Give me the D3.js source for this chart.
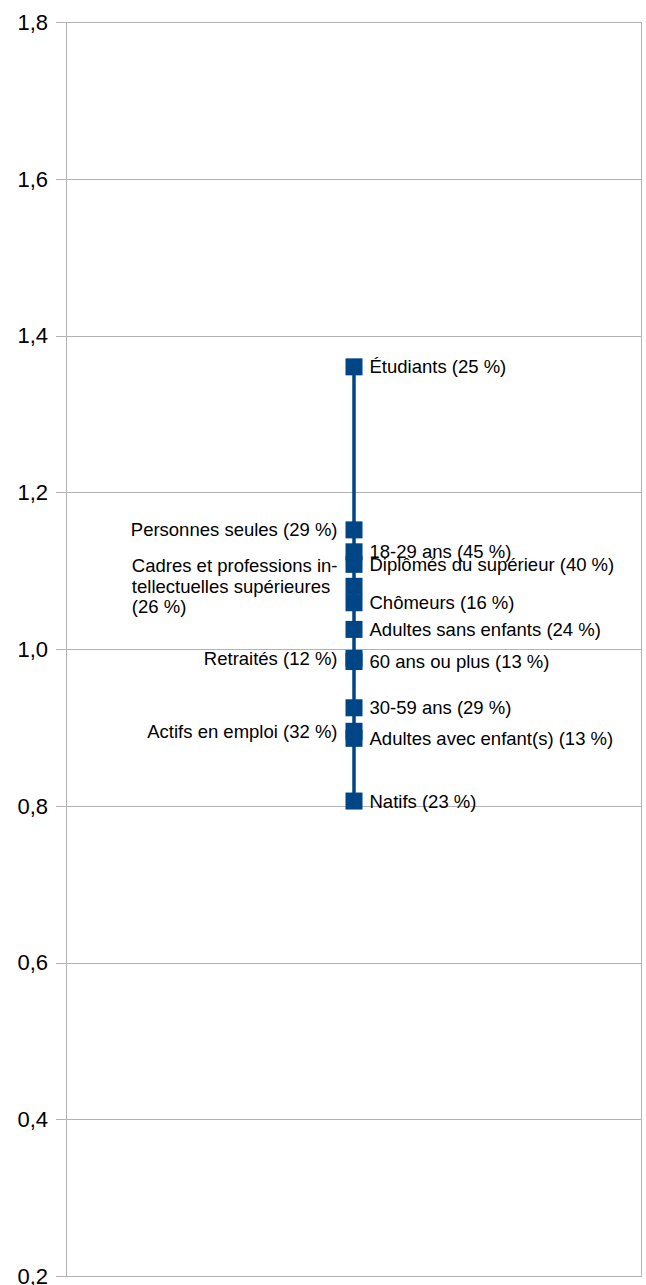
<!DOCTYPE html>
<html>
<head>
<meta charset="utf-8">
<script src="https://cdn.jsdelivr.net/npm/d3@7"></script>
<style>
  html, body { margin: 0; padding: 0; background: #fff; }
  svg { display: block; font-family: "Liberation Sans", Arial, sans-serif; }
</style>
</head>
<body>
<svg id="chart" width="646" height="1285"></svg>
<script>
// ---- data ----
const labels = [
  "Étudiants (25 %)",
  "Personnes seules (29 %)",
  "18-29 ans (45 %)",
  "Diplômés du supérieur (40 %)",
  "Cadres et professions in-\ntellectuelles supérieures\n(26 %)",
  "Chômeurs (16 %)",
  "Adultes sans enfants (24 %)",
  "Retraités (12 %)",
  "60 ans ou plus (13 %)",
  "30-59 ans (29 %)",
  "Actifs en emploi (32 %)",
  "Adultes avec enfant(s) (13 %)",
  "Natifs (23 %)"
];
const values = [1.36, 1.152, 1.124, 1.108, 1.080, 1.059, 1.025, 0.988, 0.984, 0.925, 0.895, 0.886, 0.806];
const sides = ["right", "left", "right", "right", "left", "right", "right", "left", "right", "right", "left", "right", "right"];
const yTicks = [0.2, 0.4, 0.6, 0.8, 1.0, 1.2, 1.4, 1.6, 1.8];
const tickLabels = ["0,2", "0,4", "0,6", "0,8", "1,0", "1,2", "1,4", "1,6", "1,8"];
const categories = ["série"];

// ---- layout ----
const W = 646, H = 1285;
const margin = { top: 22, right: 4, bottom: 9, left: 66 };
const color = "#004586";
const gridColor = "#b3b3b3";

const svg = d3.select("#chart");
const x = d3.scalePoint().domain(categories).range([margin.left, W - margin.right]).padding(0.5);
const y = d3.scaleLinear().domain([0.2, 1.8]).range([H - margin.bottom, margin.top]);

// gridlines
svg.append("g").selectAll("line").data(yTicks).join("line")
  .attr("x1", margin.left - 10).attr("x2", W - margin.right)
  .attr("y1", d => Math.round(y(d)) + 0.5).attr("y2", d => Math.round(y(d)) + 0.5)
  .attr("stroke", gridColor).attr("stroke-width", 1);

// plot frame left / right
svg.append("line").attr("x1", margin.left + 0.5).attr("x2", margin.left + 0.5)
  .attr("y1", y(1.8)).attr("y2", y(0.2)).attr("stroke", gridColor);
svg.append("line").attr("x1", W - margin.right - 0.5).attr("x2", W - margin.right - 0.5)
  .attr("y1", y(1.8)).attr("y2", y(0.2)).attr("stroke", gridColor);

// y axis tick labels
svg.append("g").selectAll("text").data(yTicks).join("text")
  .attr("x", 48).attr("y", d => y(d)).attr("dy", "0.36em")
  .attr("text-anchor", "end").attr("font-size", 22).attr("fill", "#000")
  .text((d, i) => tickLabels[i]);

// data
const data = values.map((v, i) => ({ v, label: labels[i], side: sides[i], cat: categories[0] }));
const cx = x(categories[0]);

// line
const line = d3.line().x(d => x(d.cat)).y(d => y(d.v));
svg.append("path").datum(data).attr("d", line)
  .attr("fill", "none").attr("stroke", color).attr("stroke-width", 3.5);

// markers
const ms = 17;
svg.append("g").selectAll("rect").data(data).join("rect")
  .attr("x", d => x(d.cat) - ms / 2).attr("y", d => y(d.v) - ms / 2)
  .attr("width", ms).attr("height", ms).attr("fill", color);

// labels
const fs = 18.5, lh = 20.5;
const lg = svg.append("g").attr("font-size", fs).attr("fill", "#000");
data.forEach(d => {
  const lines = d.label.split("\n");
  const t = lg.append("text");
  const cy = y(d.v);
  const top = cy - (lines.length - 1) * lh / 2;
  lines.forEach((s, i) => {
    t.append("tspan").attr("y", top + i * lh).attr("dy", "0.35em").text(s);
  });
  if (d.side === "right") {
    t.selectAll("tspan").attr("x", cx + ms / 2 + 7);
  } else {
    const right = cx - ms / 2 - 8;
    if (lines.length > 1) {
      let maxW = 0;
      t.selectAll("tspan").each(function () { maxW = Math.max(maxW, this.getComputedTextLength()); });
      t.selectAll("tspan").attr("x", right - maxW);
    } else {
      t.attr("text-anchor", "end");
      t.selectAll("tspan").attr("x", right);
    }
  }
});
</script>
</body>
</html>
